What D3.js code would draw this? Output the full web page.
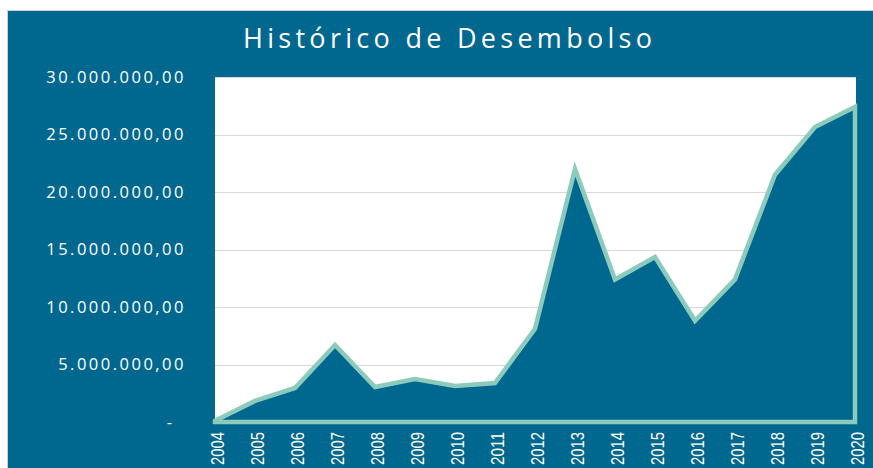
<!DOCTYPE html>
<html>
<head>
<meta charset="utf-8">
<script src="https://cdn.jsdelivr.net/npm/d3@7"></script>
<style>
  body { margin: 0; background: #fff; }
  svg { display: block; }
</style>
</head>
<body>
<svg id="chart"></svg>
<script>
// data
const years = ["2004","2005","2006","2007","2008","2009","2010","2011","2012","2013","2014","2015","2016","2017","2018","2019","2020"];
const desembolso = [100000, 1830000, 2960000, 6700000, 3040000, 3740000, 3130000, 3390000, 8100000, 22000000, 12400000, 14350000, 8800000, 12400000, 21500000, 25650000, 27400000];
const yTicks = [0, 5000000, 10000000, 15000000, 20000000, 25000000, 30000000];

const W = 873, H = 468,
    blue = "#00678f",
    teal = "#8ccbbc";

const svg = d3.select("#chart")
    .attr("width", W)
    .attr("height", H);

// panel background
svg.append("rect")
    .attr("x", 7.5).attr("y", 10.5)
    .attr("width", W).attr("height", H)
    .attr("fill", blue)
    .attr("stroke", "#cfcfcf")
    .attr("stroke-width", 1);

// plot area
const plot = { left: 215, right: 855, top: 77, bottom: 422 };

svg.append("rect")
    .attr("x", plot.left).attr("y", plot.top)
    .attr("width", plot.right - plot.left + 1)
    .attr("height", plot.bottom - plot.top)
    .attr("fill", "#fff");

const x = d3.scalePoint()
    .domain(years)
    .range([plot.left, plot.right]);

const y = d3.scaleLinear()
    .domain([0, 30000000])
    .range([plot.bottom, plot.top]);

// gridlines
svg.append("g")
    .selectAll("line")
    .data(yTicks.filter(d => d > 0))
    .enter().append("line")
    .attr("x1", plot.left).attr("x2", plot.right + 1)
    .attr("y1", d => Math.round(y(d)) + 0.5)
    .attr("y2", d => Math.round(y(d)) + 0.5)
    .attr("stroke", "#d9d9d9")
    .attr("stroke-width", 1);

// y labels
const fmt = d3.formatLocale({ decimal: ",", thousands: ".", grouping: [3], currency: ["", ""] }).format(",.2f");

svg.append("g")
    .selectAll("text")
    .data(yTicks)
    .enter().append("text")
    .attr("x", d => d === 0 ? 172 : 186)
    .attr("y", d => y(d))
    .attr("dy", "0.36em")
    .attr("text-anchor", "end")
    .attr("fill", "#fff")
    .style("font-family", "'Open Sans', sans-serif")
    .style("font-size", "16.5px")
    .style("letter-spacing", d => d === 0 ? "0px" : "2.5px")
    .text(d => d === 0 ? "-" : fmt(d));

// area + outline
const area = d3.area()
    .x((d, i) => x(years[i]))
    .y0(plot.bottom)
    .y1(d => y(d));

svg.append("path")
    .datum(desembolso)
    .attr("d", area)
    .attr("fill", blue)
    .attr("stroke", teal)
    .attr("stroke-width", 4.5)
    .attr("stroke-linejoin", "miter");

// x labels (narrow, rotated)
svg.append("g")
    .selectAll("text")
    .data(years)
    .enter().append("text")
    .attr("transform", d => `translate(${x(d) + 2},432) rotate(-90)`)
    .attr("dy", "0.36em")
    .attr("text-anchor", "end")
    .attr("fill", "#fff")
    .attr("textLength", 33)
    .attr("lengthAdjust", "spacingAndGlyphs")
    .style("font-family", "'Liberation Sans', sans-serif")
    .style("font-size", "19px")
    .text(d => d);

// title
svg.append("text")
    .attr("x", 243)
    .attr("y", 48)
    .attr("textLength", 409)
    .attr("lengthAdjust", "spacing")
    .attr("fill", "#fff")
    .style("font-family", "'Open Sans', sans-serif")
    .style("font-size", "27px")
    .text("Histórico de Desembolso");
</script>
</body>
</html>
